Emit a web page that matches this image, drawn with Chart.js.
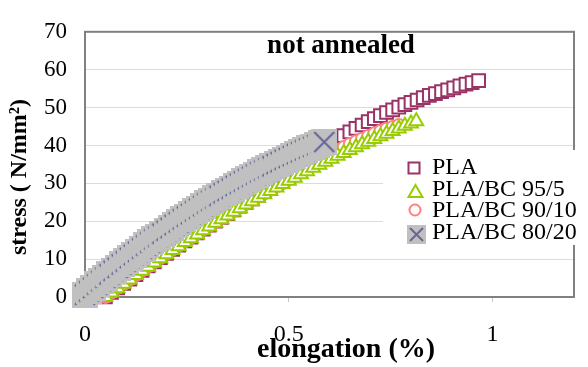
<!DOCTYPE html>
<html>
<head>
<meta charset="utf-8">
<script src="https://cdn.jsdelivr.net/npm/chart.js@4.4.0/dist/chart.umd.min.js"></script>
<style>
  html, body { margin: 0; padding: 0; background: #fff; }
  #wrap { width: 588px; height: 367px; }
</style>
</head>
<body>
<div id="wrap"><canvas id="stressChart" width="588" height="367"></canvas></div>
<script>
// elongation (%) and stress (N/mm2)
var plaX = [0.05, 0.065, 0.08, 0.095, 0.11, 0.125, 0.14, 0.155, 0.17, 0.185,
  0.2, 0.215, 0.23, 0.245, 0.26, 0.275, 0.29, 0.305, 0.32, 0.335,
  0.35, 0.365, 0.38, 0.395, 0.41, 0.425, 0.44, 0.455, 0.47, 0.485,
  0.5, 0.515, 0.53, 0.545, 0.56, 0.575, 0.59, 0.605, 0.62, 0.635,
  0.65, 0.665, 0.68, 0.695, 0.71, 0.725, 0.74, 0.755, 0.77, 0.785,
  0.8, 0.815, 0.83, 0.845, 0.86, 0.875, 0.89, 0.905, 0.92, 0.935,
  0.95, 0.966];
var plaY = [0, 1.2, 2.4, 3.6, 4.7, 5.9, 7.0, 8.2, 9.3, 10.4,
  11.5, 12.6, 13.7, 14.8, 15.8, 16.9, 17.9, 19.0, 20.0, 21.0,
  22.0, 23.0, 24.0, 25.0, 25.9, 26.9, 27.9, 28.9, 29.8, 30.8,
  31.8, 33.1, 34.4, 35.7, 37.0, 38.2, 39.4, 40.5, 41.6, 42.6,
  43.6, 44.5, 45.4, 46.3, 47.1, 47.9, 48.7, 49.4, 50.1, 50.8,
  51.4, 52.0, 52.6, 53.2, 53.7, 54.2, 54.7, 55.2, 55.7, 56.2,
  56.6, 57.1];

var bc95X = [0.05, 0.065, 0.08, 0.095, 0.11, 0.125, 0.14, 0.155, 0.17, 0.185,
  0.2, 0.215, 0.23, 0.245, 0.26, 0.275, 0.29, 0.305, 0.32, 0.335,
  0.35, 0.365, 0.38, 0.395, 0.41, 0.425, 0.44, 0.455, 0.47, 0.485,
  0.5, 0.515, 0.53, 0.545, 0.56, 0.575, 0.59, 0.605, 0.62, 0.635,
  0.65, 0.665, 0.68, 0.695, 0.71, 0.725, 0.74, 0.755, 0.77, 0.785,
  0.8, 0.813];
var bc95Y = [0, 1.2, 2.3, 3.5, 4.6, 5.8, 6.9, 8.0, 9.1, 10.2,
  11.3, 12.4, 13.4, 14.5, 15.5, 16.5, 17.6, 18.6, 19.6, 20.5,
  21.5, 22.5, 23.4, 24.4, 25.3, 26.2, 27.1, 28.0, 28.9, 29.8,
  30.7, 31.5, 32.4, 33.2, 34.1, 34.9, 35.7, 36.5, 37.3, 38.0,
  38.8, 39.5, 40.3, 41.0, 41.7, 42.4, 43.1, 43.8, 44.5, 45.2,
  45.8, 46.4];

var bc90X = [0.05, 0.065, 0.08, 0.095, 0.11, 0.125, 0.14, 0.155, 0.17, 0.185,
  0.2, 0.215, 0.23, 0.245, 0.26, 0.275, 0.29, 0.305, 0.32, 0.335,
  0.35, 0.365, 0.38, 0.395, 0.41, 0.425, 0.44, 0.455, 0.47, 0.485,
  0.5, 0.515, 0.53, 0.545, 0.56, 0.575, 0.59, 0.605, 0.62, 0.635,
  0.65, 0.665, 0.68, 0.695, 0.71, 0.725, 0.74, 0.755, 0.77];
var bc90Y = [0, 1.2, 2.4, 3.5, 4.7, 5.8, 7.0, 8.1, 9.2, 10.3,
  11.4, 12.5, 13.6, 14.7, 15.7, 16.8, 17.8, 18.8, 19.8, 20.8,
  21.8, 22.7, 23.7, 24.6, 25.6, 26.5, 27.4, 28.3, 29.2, 30.1,
  31.0, 32.0, 33.0, 34.0, 35.0, 36.0, 37.0, 37.9, 38.8, 39.6,
  40.4, 41.1, 41.8, 42.5, 43.2, 43.8, 44.4, 44.9, 45.4];

var bc80X = [0, 0.01, 0.02, 0.03, 0.04, 0.05, 0.06, 0.07, 0.08, 0.09,
  0.1, 0.11, 0.12, 0.13, 0.14, 0.15, 0.16, 0.17, 0.18, 0.19,
  0.2, 0.21, 0.22, 0.23, 0.24, 0.25, 0.26, 0.27, 0.28, 0.29,
  0.3, 0.31, 0.32, 0.33, 0.34, 0.35, 0.36, 0.37, 0.38, 0.39,
  0.4, 0.41, 0.42, 0.43, 0.44, 0.45, 0.46, 0.47, 0.48, 0.49,
  0.5, 0.51, 0.52, 0.53, 0.54, 0.55, 0.56, 0.57, 0.58, 0.587];
var bc80Y = [0.6, 1.5, 2.4, 3.3, 4.2, 5.1, 6.0, 6.9, 7.7, 8.6,
  9.4, 10.3, 11.1, 11.9, 12.8, 13.6, 14.4, 15.2, 15.9, 16.7,
  17.5, 18.2, 19.0, 19.7, 20.5, 21.2, 21.9, 22.6, 23.3, 24.0,
  24.7, 25.4, 26.0, 26.7, 27.4, 28.0, 28.6, 29.3, 29.9, 30.5,
  31.1, 31.7, 32.3, 32.9, 33.4, 34.0, 34.5, 35.1, 35.6, 36.2,
  36.7, 37.2, 37.7, 38.2, 38.7, 39.2, 39.6, 40.1, 40.6, 40.9];

var seriesNames = ["PLA", "PLA/BC 95/5", "PLA/BC 90/10", "PLA/BC 80/20"];
var xRange = [0, 1.2];
var yRange = [0, 70];

var serif = "'Times New Roman', 'Liberation Serif', serif";

function toPoints(xs, ys) {
  return xs.map(function (x, i) { return { x: x, y: ys[i] }; });
}

// grey box with a cross, the marker of the 80/20 series
function crossBox(size, inset) {
  var c = document.createElement('canvas');
  c.width = size;
  c.height = size;
  var g = c.getContext('2d');
  g.fillStyle = '#C0C0C0';
  g.fillRect(0, 0, size, size);
  g.strokeStyle = '#666699';
  g.lineWidth = 2;
  g.beginPath();
  g.moveTo(inset, inset); g.lineTo(size - inset, size - inset);
  g.moveTo(size - inset, inset); g.lineTo(inset, size - inset);
  g.stroke();
  return c;
}

var crossMarker = crossBox(26, 3);
var crossLegend = crossBox(19, 3);

var framePlugin = {
  id: 'frame',
  beforeDatasetsDraw: function (chart) {
    var a = chart.chartArea, c = chart.ctx;
    c.save();
    c.strokeStyle = '#808080';
    c.lineWidth = 2;
    c.strokeRect(a.left, a.top, a.right - a.left, a.bottom - a.top);
    c.restore();
  }
};

var textPlugin = {
  id: 'texts',
  afterDraw: function (chart) {
    var c = chart.ctx;
    c.save();
    c.fillStyle = '#000';
    c.textBaseline = 'alphabetic';

    c.textAlign = 'center';
    c.font = 'bold 27px ' + serif;
    c.fillText('not annealed', 341, 53);

    c.font = 'bold 28px ' + serif;
    c.fillText('elongation (%)', 346, 357);

    c.save();
    c.translate(26, 177);
    c.rotate(-Math.PI / 2);
    c.font = 'bold 24px ' + serif;
    c.fillText('stress ( N/mm\u00B2)', 0, 0);
    c.restore();

    // legend box, drawn over the frame like in the original
    c.fillStyle = '#fff';
    c.fillRect(383, 150, 205, 95);

    c.lineWidth = 2;
    c.strokeStyle = '#993366';
    c.strokeRect(408.5, 162.5, 11, 11);

    c.strokeStyle = '#99CC00';
    c.beginPath();
    c.moveTo(415.5, 185); c.lineTo(422.5, 197); c.lineTo(408.5, 197);
    c.closePath();
    c.stroke();

    c.strokeStyle = '#FF8080';
    c.beginPath();
    c.arc(415, 210, 5.5, 0, Math.PI * 2);
    c.stroke();

    c.drawImage(crossLegend, 407, 225);

    c.fillStyle = '#000';
    c.textAlign = 'left';
    c.font = '24px ' + serif;
    var rows = [174, 195.5, 217, 238.5];
    seriesNames.forEach(function (name, i) {
      c.fillText(name, 432, rows[i]);
    });
    c.restore();
  }
};

var ctx = document.getElementById('stressChart').getContext('2d');

var myChart = new Chart(ctx, {
  type: 'scatter',
  data: {
    datasets: [{
        label: seriesNames[0],
        data: toPoints(plaX, plaY),
        pointStyle: 'rect',
        pointRadius: 9,
        pointHoverRadius: 9,
        borderColor: '#993366',
        backgroundColor: '#fff',
        borderWidth: 2,
        clip: false,
        order: 4
      },
      {
        label: seriesNames[1],
        data: toPoints(bc95X, bc95Y),
        pointStyle: 'triangle',
        pointRadius: 8,
        pointHoverRadius: 8,
        borderColor: '#99CC00',
        backgroundColor: '#fff',
        borderWidth: 2,
        clip: false,
        order: 2
      },
      {
        label: seriesNames[2],
        data: toPoints(bc90X, bc90Y),
        pointStyle: 'circle',
        pointRadius: 6,
        pointHoverRadius: 6,
        borderColor: '#FF8080',
        backgroundColor: '#fff',
        borderWidth: 2,
        clip: false,
        order: 3
      },
      {
        label: seriesNames[3],
        data: toPoints(bc80X, bc80Y),
        pointStyle: crossMarker,
        pointRadius: 13,
        pointHoverRadius: 13,
        borderColor: '#666699',
        backgroundColor: '#C0C0C0',
        clip: false,
        order: 1
      }
    ]
  },
  options: {
    responsive: false,
    animation: false,
    events: [],
    layout: { padding: { left: 0, right: 10, top: 16, bottom: 0 } },
    plugins: {
      legend: { display: false },
      tooltip: { enabled: false }
    },
    scales: {
      x: {
        type: 'linear',
        min: xRange[0],
        max: xRange[1],
        ticks: {
          stepSize: 0.5,
          includeBounds: false,
          padding: 18,
          color: '#000',
          font: { family: serif, size: 24 },
          callback: function (v) { return String(v); }
        },
        grid: { drawOnChartArea: false, drawTicks: true, tickLength: 5, color: '#C8C8C8' },
        border: { display: false },
        afterFit: function (s) { s.height = 70; }
      },
      y: {
        min: yRange[0],
        max: yRange[1],
        ticks: {
          stepSize: 10,
          padding: 18,
          color: '#000',
          font: { family: serif, size: 23 }
        },
        grid: { color: '#DCDCDC', drawTicks: false },
        border: { display: false },
        afterFit: function (s) { s.width = 85; }
      }
    }
  },
  plugins: [framePlugin, textPlugin]
});
</script>
</body>
</html>
